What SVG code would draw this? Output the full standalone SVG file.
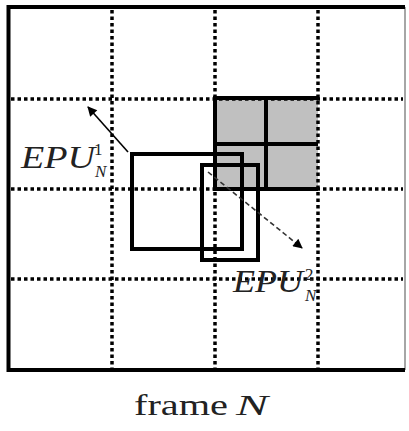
<svg xmlns="http://www.w3.org/2000/svg" width="409" height="431" viewBox="0 0 409 431">
<style>
.grid{stroke:#000;stroke-width:3.5;stroke-dasharray:3.5 3;fill:none}
.box{stroke:#000;stroke-width:4;fill:none}
.lbl{font-family:"Liberation Serif",serif;font-style:italic;fill:#222}
</style>
<defs>
<marker id="ah" viewBox="0 0 10 10" refX="9" refY="5" markerWidth="7.5" markerHeight="6" orient="auto" markerUnits="strokeWidth">
<path d="M0,0 L10,5 L0,10 z" fill="#000"/>
</marker>
</defs>
<rect x="0" y="0" width="409" height="431" fill="#fff"/>
<g id="frame">
<line x1="405" y1="7" x2="405" y2="370" stroke="#888" stroke-width="1.5"/>
<polyline points="405,7 8.5,7 8.5,370 405,370" fill="none" stroke="#000" stroke-width="4"/>
</g>
<g id="shaded">
<rect x="215" y="98" width="103" height="91" fill="#c0c0c0"/>
<polyline points="318,98 215,98 215,189 318,189" fill="none" stroke="#000" stroke-width="4"/>
<line x1="266" y1="98" x2="266" y2="189" stroke="#000" stroke-width="4"/>
<line x1="215" y1="144" x2="318" y2="144" stroke="#000" stroke-width="4"/>
</g>
<g id="grid">
<line class="grid" x1="112" y1="10" x2="112" y2="368"/>
<line class="grid" x1="215" y1="10" x2="215" y2="368"/>
<line class="grid" x1="318" y1="10" x2="318" y2="368"/>
<line class="grid" x1="11" y1="99" x2="403" y2="99"/>
<line class="grid" x1="11" y1="189" x2="403" y2="189"/>
<line class="grid" x1="11" y1="279" x2="403" y2="279"/>
</g>
<g id="epu1box"><rect class="box" x="132" y="154" width="110" height="95"/></g>
<g id="epu2box"><rect class="box" x="202" y="165" width="56" height="95"/></g>
<g id="connectors">
<line x1="128" y1="152" x2="88" y2="107" stroke="#000" stroke-width="1.6" marker-end="url(#ah)"/>
<line x1="208" y1="172" x2="302" y2="248" stroke="#333" stroke-width="1.6" stroke-dasharray="5 3" marker-end="url(#ah)"/>
</g>
<g id="label1">
<text class="lbl" x="21" y="168" font-size="31" textLength="74" lengthAdjust="spacingAndGlyphs">EPU</text>
<text class="lbl" x="94" y="155" font-size="17" style="font-style:normal">1</text>
<text class="lbl" x="95" y="177" font-size="17">N</text>
</g>
<g id="label2">
<text class="lbl" x="233" y="292" font-size="31" textLength="70" lengthAdjust="spacingAndGlyphs">EPU</text>
<text class="lbl" x="305" y="280" font-size="17" style="font-style:normal">2</text>
<text class="lbl" x="305" y="301" font-size="17">N</text>
</g>
<g id="caption">
<text x="134" y="415" font-family="Liberation Serif, serif" font-size="30" fill="#222" textLength="94" lengthAdjust="spacingAndGlyphs">frame</text>
<text x="236" y="415" font-family="Liberation Serif, serif" font-size="30" font-style="italic" fill="#222" textLength="32" lengthAdjust="spacingAndGlyphs">N</text>
</g>
</svg>
